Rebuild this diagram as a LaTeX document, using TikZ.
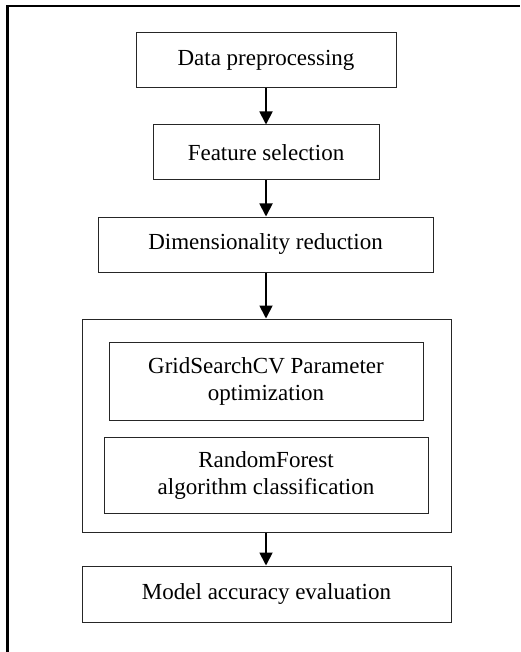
\documentclass[tikz,border=0pt]{standalone}
\usepackage{fontspec}
\setmainfont{Liberation Serif}
\usetikzlibrary{arrows.meta}
\begin{document}
\begin{tikzpicture}[x=1pt,y=-1pt,
  stepbox/.style={draw=black!85,line width=1pt,inner sep=0pt,
    font=\fontsize{23}{27}\selectfont,align=center},
  flow/.style={line width=1.8pt,-{Triangle[width=13pt,length=13pt]}}]
\useasboundingbox (0,0) rectangle (520,652);
% partial outer frame (top and left edges)
\draw[line width=2.6pt] (7.5,652) -- (7.5,6) -- (520,6);
% main steps
\node[stepbox,minimum width=260pt,minimum height=55pt] (pre) at (266,60.5) {Data preprocessing};
\node[stepbox,minimum width=226pt,minimum height=55pt] (fs) at (266,152.5) {Feature selection};
\node[stepbox,minimum width=335pt,minimum height=55pt] (dr) at (265.5,244.5) {Dimensionality reduction};
% model group with its two stages
\node[stepbox,minimum width=369pt,minimum height=213pt] (grp) at (266.5,425.5) {};
\node[stepbox,minimum width=314pt,minimum height=78pt] (gs) at (266,381) {GridSearchCV Parameter\\optimization};
\node[stepbox,minimum width=324pt,minimum height=76pt] (rf) at (266,475) {RandomForest\\algorithm classification};
\node[stepbox,minimum width=369pt,minimum height=56pt] (ev) at (266.5,594) {Model accuracy evaluation};
% connectors
\draw[flow] (pre.south -| 266,0) -- (fs.north -| 266,0);
\draw[flow] (fs.south -| 266,0) -- (dr.north -| 266,0);
\draw[flow] (dr.south -| 266,0) -- (grp.north -| 266,0);
\draw[flow] (grp.south -| 266,0) -- (ev.north -| 266,0);
\end{tikzpicture}
\end{document}
